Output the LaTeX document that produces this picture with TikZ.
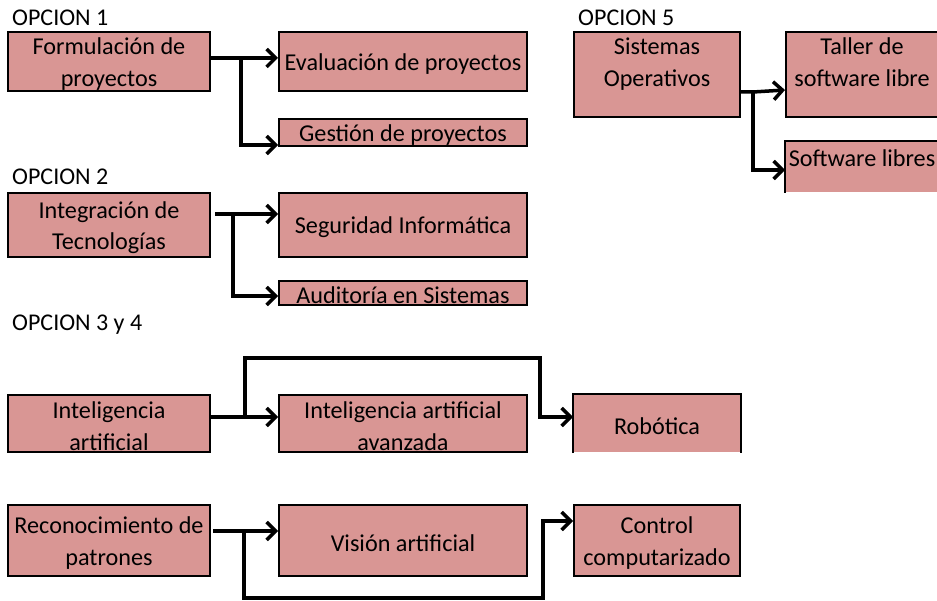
\documentclass[tikz,border=0pt]{standalone}
\usepackage{fontspec}
\setmainfont{Carlito}
\usetikzlibrary{arrows.meta}
\definecolor{boxfill}{RGB}{217,150,148}
\tikzset{
  box/.style={draw=black, line width=2pt, fill=boxfill, rectangle, inner sep=0pt},
  openbox/.style={box, draw=none},
  txt/.style={align=center, font=\fontsize{24.2}{31.5}\selectfont, inner sep=0pt},
  conn/.style={draw=black, line width=3.5pt, line join=miter,
    -{Straight Barb[length=9pt,width=18pt]}},
  head/.style={anchor=west, font=\fontsize{24}{28}\selectfont, inner sep=0pt}
}
% \bx[style]{name}{x1}{y1}{x2}{y2}{text}
\newcommand\bx[7][box]{%
  \node[#1, minimum width={(#5-#3)*1pt}, minimum height={(#6-#4)*1pt}]
    (#2) at ({(#3+#5)/2},{(#4+#6)/2}) {};
  \node[txt] (#2t) at ([yshift=-2.5pt]#2.center) {#7};}
\begin{document}
\begin{tikzpicture}[x=1pt,y=-1pt]
\clip (0,0) rectangle (937,601);
\fill[white] (0,0) rectangle (937,601);

% headings
\node[head] (h1) at (12,18) {OPCION 1};
\node[head] (h5) at (578,18) {OPCION 5};
\node[head] (h2) at (12,177) {OPCION 2};
\node[head] (h3) at (12,325) {OPCION 3 y 4};

% OPCION 1
\bx{f1}{8}{32}{210}{91}{Formulación de\\proyectos}
\bx{ev}{279}{32}{527}{91}{Evaluación de proyectos}
\bx{ge}{279}{119}{527}{146}{Gestión de proyectos}
\coordinate (j1) at (241,58);
\draw[conn] (f1.east |- 0,58) -- (ev.west |- 0,58);
\draw[conn] (j1) |- (ge.west |- 0,145);

% OPCION 5
\node[box, minimum width=166pt, minimum height=85pt] (so) at (657,74.5) {};
\node[txt, anchor=north] (sot) at (657,38) {Sistemas\\Operativos};
\node[box, minimum width=154pt, minimum height=85pt] (ta) at (863,74.5) {};
\node[txt, anchor=north] (tat) at (862,38) {Taller de\\software libre};
\node[openbox, minimum width=154pt, minimum height=50pt] (sl) at (863,167) {};
\draw[line width=2pt] (sl.south west) |- (sl.north east);
\node[txt, anchor=north] (slt) at (862,149) {Software libres};
\coordinate (j5) at (753,92);
\draw[conn] (so.east |- 0,92) -- (j5) -- (ta.west |- 0,90);
\draw[conn] (j5) |- (sl.west |- 0,170);

% OPCION 2
\bx{ig}{8}{193}{210}{257}{Integración de\\Tecnologías}
\bx{sg}{279}{193}{527}{257}{Seguridad Informática}
\bx{au}{279}{281}{527}{305}{Auditoría en Sistemas}
\coordinate (s2) at (215,214);
\coordinate (j2) at (233,214);
\draw[conn] (s2) -- (sg.west |- 0,214);
\draw[conn] (j2) |- (au.west |- 0,296);

% OPCION 3 y 4 - row 1
\bx{ia}{8}{395}{210}{452}{Inteligencia\\artificial}
\bx{iaa}{279}{395}{527}{452}{Inteligencia artificial\\avanzada}
\bx[openbox]{ro}{574}{395}{740}{452}{Robótica}
\draw[line width=2pt] (ro.south west) |- (ro.north east) -- (ro.south east);
\coordinate (j3) at (245,417);
\draw[conn] (ia.east |- 0,417) -- (iaa.west |- 0,417);
\draw[conn] (j3) |- (540,358) |- (ro.west |- 0,417);

% OPCION 3 y 4 - row 2
\bx{rp}{8}{505}{210}{576}{Reconocimiento de\\patrones}
\bx{vi}{279}{505}{527}{576}{Visión artificial}
\bx{co}{574}{505}{740}{576}{Control\\computarizado}
\coordinate (s4) at (213,531);
\coordinate (j4) at (244,531);
\draw[conn] (s4) -- (vi.west |- 0,531);
\draw[conn] (j4) |- (543,598) |- (co.west |- 0,521);
\end{tikzpicture}
\end{document}
